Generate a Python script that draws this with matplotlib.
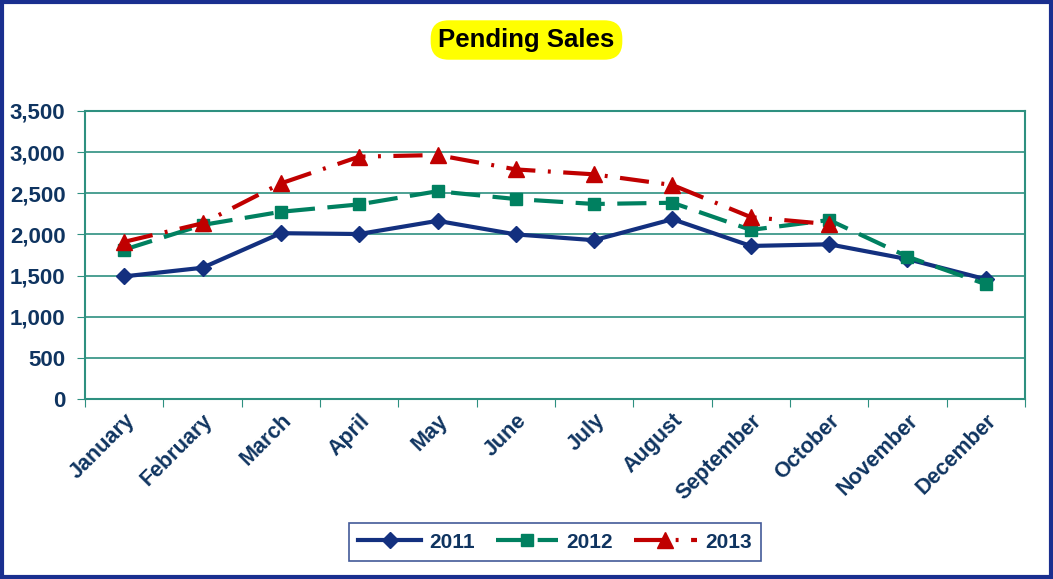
import matplotlib
matplotlib.use("Agg")
import matplotlib.pyplot as plt
from matplotlib.patches import Rectangle
from matplotlib.ticker import FuncFormatter, MultipleLocator

plt.rcParams["font.family"] = ["Liberation Sans", "DejaVu Sans"]

months = ["January", "February", "March", "April", "May", "June", "July",
          "August", "September", "October", "November", "December"]
sales_2011 = [1490, 1595, 2015, 2005, 2165, 2000, 1930, 2185, 1860, 1880, 1700, 1455]
sales_2012 = [1815, 2115, 2275, 2365, 2525, 2430, 2370, 2385, 2055, 2175, 1730, 1395]
sales_2013 = [1910, 2135, 2620, 2945, 2965, 2790, 2730, 2600, 2210, 2125]

navy = "#13307f"
teal = "#008060"
red = "#c00000"
text_col = "#0f3460"
grid_col = "#2e9080"

fig = plt.figure(figsize=(10.53, 5.79), dpi=100)
ax = fig.add_axes([85/1053, 1-399/579, 940/1053, 288/579])

x = list(range(len(months)))
ax.plot(x, sales_2011, color=navy, lw=3, marker="D", ms=8, label="2011", zorder=3)
ax.plot(x, sales_2012, color=teal, lw=3, marker="s", ms=9, dashes=(7, 3), label="2012", zorder=4)
ax.plot(x[:len(sales_2013)], sales_2013, color=red, lw=3, marker="^", ms=11,
        dashes=(7, 3, 0.7, 3), label="2013", zorder=5)

ax.set_xlim(-0.5, 11.5)
ax.set_ylim(0, 3500)
ax.yaxis.set_major_locator(MultipleLocator(500))
ax.yaxis.set_major_formatter(FuncFormatter(lambda v, p: f"{int(v):,}"))
ax.grid(axis="y", color=grid_col, lw=1.2)
ax.set_axisbelow(True)
for s in ax.spines.values():
    s.set_color(grid_col)
    s.set_linewidth(1.5)

ax.set_xticks([i - 0.5 for i in range(13)], minor=False)
ax.set_xticklabels([])
ax.set_xticks(x, minor=True)
ax.set_xticklabels(months, minor=True, rotation=45, ha="right", rotation_mode="anchor",
                   fontsize=15.5, fontweight="bold", color=text_col)
ax.tick_params(axis="x", which="minor", length=0, pad=8)
ax.tick_params(axis="x", which="major", length=6, color=grid_col, direction="out")
ax.tick_params(axis="y", length=6, color=grid_col, labelsize=16, labelcolor=text_col, pad=8)
for t in ax.get_yticklabels():
    t.set_fontweight("bold")

fig.text(0.5, 1-40/579, "Pending Sales", ha="center", va="center", fontsize=18.5,
         fontweight="bold", color="black",
         bbox=dict(boxstyle="round,pad=0.3,rounding_size=0.7", fc="#ffff00", ec="none"))

leg = fig.legend(loc="center", bbox_to_anchor=(555/1053, 1-542/579), ncol=3,
                 frameon=True, fancybox=False, edgecolor=navy, handlelength=3.0,
                 columnspacing=1.0, handletextpad=0.4, borderpad=0.45, borderaxespad=0,
                 prop={"weight": "bold", "size": 15})
leg.get_frame().set_linewidth(1.2)
for t in leg.get_texts():
    t.set_color(text_col)

fig.patches.append(Rectangle((0.002, 0.003), 0.996, 0.994, transform=fig.transFigure,
                             fill=False, ec="#1a2f8f", lw=3))

fig.savefig("out.png", dpi=100)
